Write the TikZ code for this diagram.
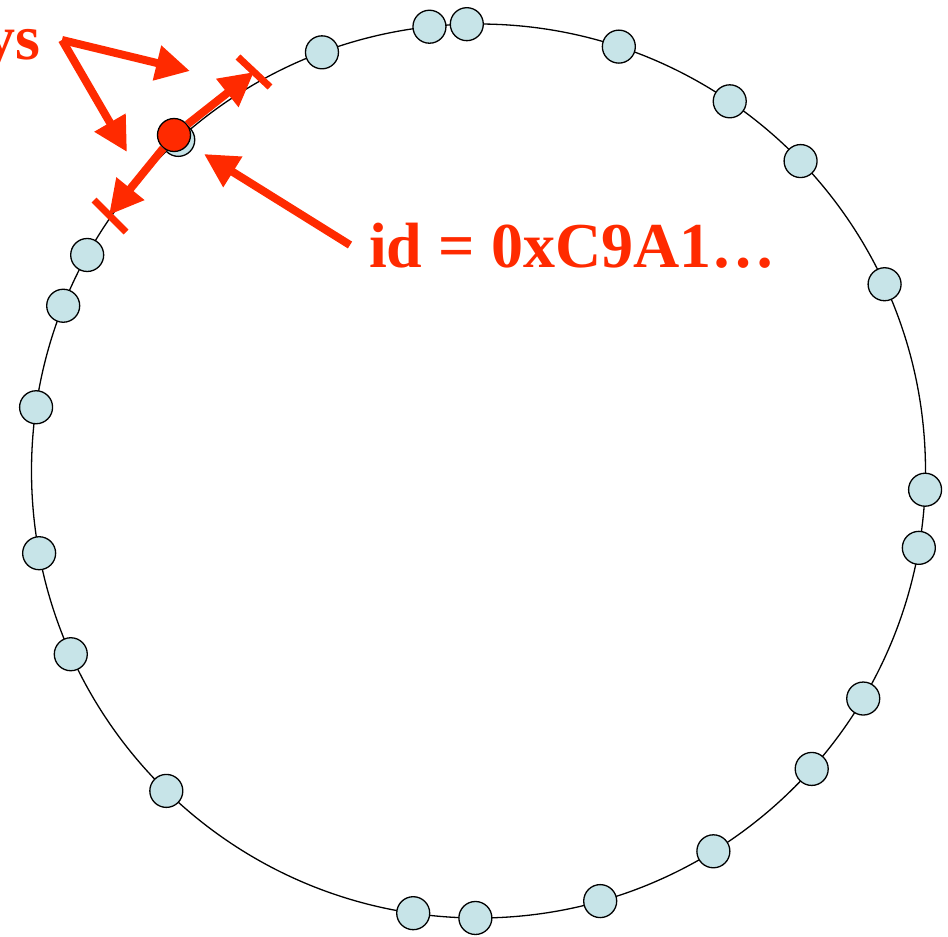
\documentclass[tikz,border=0pt]{standalone}
\usepackage{fontspec}
\setmainfont{Liberation Serif}
\usetikzlibrary{arrows.meta}
\definecolor{peerfill}{RGB}{199,228,232}
\definecolor{hot}{RGB}{255,42,0}
\tikzset{
  peer/.style={circle,draw=black,line width=1.3pt,fill=peerfill,minimum size=33pt,inner sep=0pt},
  mepeer/.style={circle,draw=black,line width=1.3pt,fill=hot,minimum size=33pt,inner sep=0pt},
  bigarrow/.style={draw=hot,line width=8pt,-{Triangle[length=34pt,width=34pt]},shorten >=0pt},
  tickmark/.style={draw=hot,line width=7pt},
  lbl/.style={text=hot,font=\bfseries\fontsize{64}{64}\selectfont,inner sep=0pt}
}
\begin{document}
\begin{tikzpicture}[x=1pt,y=-1pt]
\useasboundingbox (0,0) rectangle (948,937);
\coordinate (c) at (478.5,471);
\draw[line width=1.3pt] (c) circle[radius=447];
\foreach \a [count=\i] in {96.3,91.5,110.5,71.7,55.8,43.9,24.7,-2.4,-9.9,-30.6,-41.8,-58.3,-74.2,-90.4,-98.4,225.7,204.2,190.6,171.8,158.3,151.1,132.2}{
  \path (c) ++(-\a:447) node[peer] (n\i) {};
}
\node[mepeer] (me) at (174,135) {};
% ticks
\coordinate (ta1) at (238,57);
\coordinate (ta2) at (270,87);
\coordinate (tb1) at (94,200);
\coordinate (tb2) at (126,232);
\draw[tickmark] (ta1) -- (ta2);
\draw[tickmark] (tb1) -- (tb2);
\coordinate (tipA) at (254,72);
\coordinate (tipB) at (109,215);
\draw[bigarrow] (me) -- (tipA);
\draw[bigarrow] (me) -- (tipB);
% label arrows
\node[lbl,anchor=base east] (ys) at (41,59) {ys};
\coordinate (ysf) at (62,40);
\coordinate (ysA) at (190,71);
\coordinate (ysB) at (127,152);
\draw[bigarrow,line join=miter] (ysf) -- (ysA);
\draw[bigarrow] (ysf) -- (ysB);
\node[lbl,anchor=base west] (idl) at (369,267) {id = 0xC9A1…};
\coordinate (idf) at (350,245);
\coordinate (idt) at (204,154);
\draw[bigarrow] (idf) -- (idt);
\end{tikzpicture}
\end{document}
